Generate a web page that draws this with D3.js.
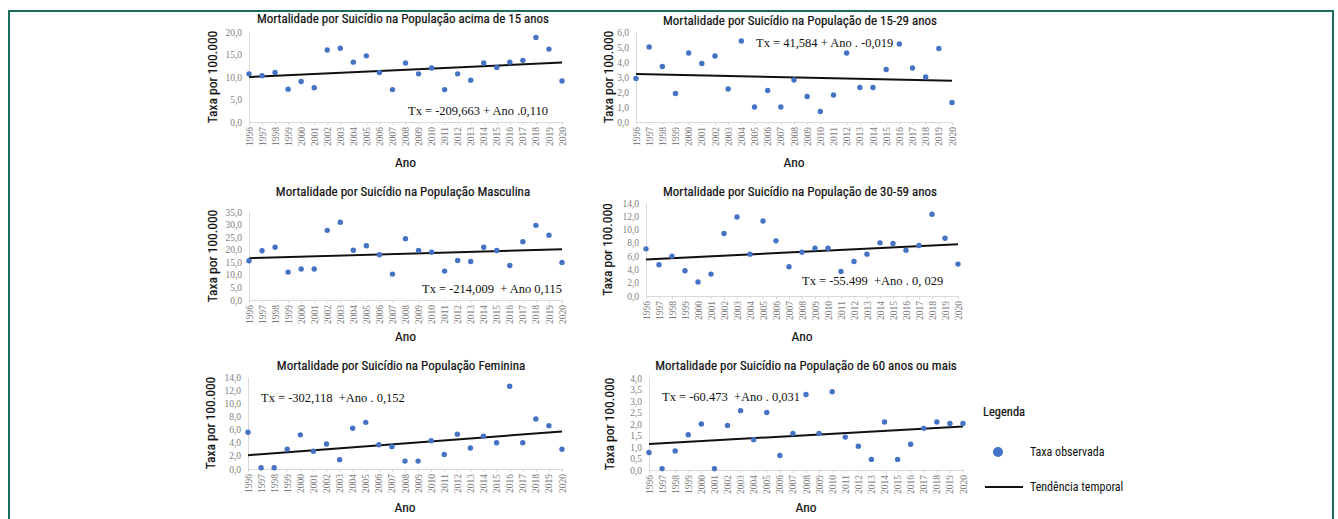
<!DOCTYPE html>
<html>
<head>
<meta charset="utf-8">
<script src="https://cdn.jsdelivr.net/npm/d3@7"></script>
<style>
  html, body { margin: 0; padding: 0; background: #fff; }
  svg { display: block; }
  .narrow { font-family: "Liberation Sans Narrow", "Roboto Condensed", "DejaVu Sans Condensed", "Liberation Sans", sans-serif; }
  .heavy { stroke: #111; stroke-width: 0.2px; }
  .eq { white-space: pre; }
</style>
</head>
<body>
<svg id="chart" width="1338" height="519"></svg>
<script>
// ---------- DATA ----------
const years = [1996,1997,1998,1999,2000,2001,2002,2003,2004,2005,2006,2007,2008,2009,2010,2011,2012,2013,2014,2015,2016,2017,2018,2019,2020];

const titles = [
  "Mortalidade por Suicídio na População acima de 15 anos",
  "Mortalidade por Suicídio na População de 15-29 anos",
  "Mortalidade por Suicídio na População Masculina",
  "Mortalidade por Suicídio na População de 30-59 anos",
  "Mortalidade por Suicídio na População Feminina",
  "Mortalidade por Suicídio na População de 60 anos ou mais"
];

const yMaxes  = [20, 6, 35, 14, 14, 4];
const yStepss = [5, 1, 5, 2, 2, 0.5];

const acima15   = [10.7,10.3,11.0,7.3,9.0,7.6,16.0,16.4,13.3,14.7,11.0,7.2,13.1,10.7,12.0,7.2,10.7,9.3,13.1,12.1,13.3,13.7,18.8,16.2,9.1];
const de15a29   = [2.9,5.0,3.7,1.9,4.6,3.9,4.4,2.2,5.4,1.0,2.1,1.0,2.8,1.7,0.7,1.8,4.6,2.3,2.3,3.5,5.2,3.6,3.0,4.9,1.3];
const masculina = [15.6,19.6,21.0,11.1,12.3,12.3,27.7,30.9,19.8,21.6,18.0,10.3,24.4,19.7,19.0,11.5,15.7,15.3,21.0,19.7,13.7,23.2,29.7,25.8,14.9];
const de30a59   = [7.1,4.7,6.0,3.8,2.1,3.3,9.4,11.9,6.3,11.3,8.3,4.4,6.6,7.2,7.2,3.7,5.2,6.3,8.0,7.9,6.9,7.6,12.3,8.7,4.8];
const feminina  = [5.6,0.2,0.2,3.0,5.2,2.7,3.8,1.4,6.2,7.1,3.7,3.4,1.2,1.2,4.3,2.2,5.3,3.2,5.0,4.0,12.6,4.0,7.6,6.6,3.0];
const de60mais  = [0.76,0.06,0.83,1.53,2.0,0.06,1.94,2.58,1.32,2.5,0.63,1.59,3.28,1.59,3.4,1.43,1.03,0.46,2.09,0.46,1.12,1.81,2.09,2.02,2.02];

const seriesList = [acima15, de15a29, masculina, de30a59, feminina, de60mais];

// trend line values at 1996 and 2020 as drawn
const trendStart = [10.0, 3.2, 16.6, 5.5, 2.1, 1.13];
const trendEnd   = [13.2, 2.75, 20.2, 7.8, 5.7, 1.89];

const equations = [
  "Tx = -209,663 + Ano .0,110",
  "Tx = 41,584 + Ano . -0,019",
  "Tx = -214,009  + Ano 0,115",
  "Tx = -55.499  +Ano . 0, 029",
  "Tx = -302,118  +Ano . 0,152",
  "Tx = -60.473  +Ano . 0,031"
];

const yAxisTitle = "Taxa por 100.000";
const xAxisTitle = "Ano";
const legendTitle = "Legenda";
const legendLabels = ["Taxa observada", "Tendência temporal"];

// ---------- LAYOUT ----------
const layout = [
  { x0: 249, x1: 562, yTop: 32,  y0: 122, titleX: 403, titleY: 20,  anoY: 163, ytX: 213, eqX: 408, eqY: 112 },
  { x0: 636, x1: 952, yTop: 32,  y0: 122, titleX: 800, titleY: 22,  anoY: 163, ytX: 609, eqX: 756, eqY: 44 },
  { x0: 249, x1: 562, yTop: 212, y0: 300, titleX: 403, titleY: 193, anoY: 337, ytX: 213, eqX: 422, eqY: 290 },
  { x0: 646, x1: 958, yTop: 203, y0: 296, titleX: 800, titleY: 193, anoY: 337, ytX: 608, eqX: 802, eqY: 282 },
  { x0: 248, x1: 562, yTop: 377, y0: 469, titleX: 401, titleY: 367, anoY: 508, ytX: 211, eqX: 261, eqY: 399 },
  { x0: 649, x1: 963, yTop: 378, y0: 470, titleX: 806, titleY: 367, anoY: 508, ytX: 610, eqX: 662, eqY: 398 }
];

const dotColor = "#4472c4";
const gridGrey = "#d9d9d9";
const tickGrey = "#808080";
const locale = d3.formatLocale({ decimal: ",", thousands: ".", grouping: [3], currency: ["", ""] });
const fmt = locale.format(".1f");

const svg = d3.select("#chart");

// frame border
svg.append("path")
  .attr("d", "M9,530 L9,11 L1333,11 L1333,530")
  .attr("fill", "none")
  .attr("stroke", "#1d6b5b")
  .attr("stroke-width", 2);

titles.forEach((title, i) => {
  const L = layout[i];
  const data = seriesList[i];
  const x = d3.scalePoint().domain(years).range([L.x0, L.x1]);
  const y = d3.scaleLinear().domain([0, yMaxes[i]]).range([L.y0, L.yTop]);
  const g = svg.append("g");

  // y axis
  const yTicks = d3.range(0, yMaxes[i] + yStepss[i] / 2, yStepss[i]);
  const yAxis = g.append("g")
    .attr("transform", `translate(${L.x0},0)`)
    .call(d3.axisLeft(y).tickValues(yTicks).tickFormat(fmt).tickSize(0).tickPadding(7));
  yAxis.select(".domain").attr("stroke", gridGrey).attr("stroke-width", 1);
  yAxis.selectAll("text")
    .attr("fill", tickGrey)
    .attr("font-family", "'Liberation Serif', serif")
    .attr("font-size", 9.5);

  // x axis
  const xAxis = g.append("g")
    .attr("transform", `translate(0,${L.y0})`)
    .call(d3.axisBottom(x).tickSize(3).tickSizeOuter(0).tickPadding(3).tickFormat(d3.format("d")));
  xAxis.select(".domain").attr("stroke", gridGrey).attr("stroke-width", 1);
  xAxis.selectAll(".tick line").attr("stroke", gridGrey);
  xAxis.selectAll("text")
    .attr("fill", tickGrey)
    .attr("font-family", "'Liberation Serif', serif")
    .attr("font-size", 9.5)
    .attr("transform", "rotate(-90)")
    .attr("text-anchor", "end")
    .attr("dy", "0.32em")
    .attr("x", -5)
    .attr("y", 0);

  // trend line
  const trend = [{ yr: years[0], v: trendStart[i] }, { yr: years[years.length - 1], v: trendEnd[i] }];
  g.append("path")
    .datum(trend)
    .attr("d", d3.line().x(d => x(d.yr)).y(d => y(d.v)))
    .attr("stroke", "#111")
    .attr("stroke-width", 2)
    .attr("fill", "none");

  // dots
  g.selectAll("circle.dot")
    .data(data)
    .join("circle")
    .attr("class", "dot")
    .attr("cx", (d, k) => x(years[k]))
    .attr("cy", d => y(d))
    .attr("r", 2.7)
    .attr("fill", dotColor);

  // title
  g.append("text")
    .attr("class", "narrow heavy")
    .attr("x", L.titleX).attr("y", L.titleY)
    .attr("text-anchor", "middle").attr("dominant-baseline", "middle")
    .attr("font-size", 13).attr("fill", "#111")
    .text(title);

  // x title
  g.append("text")
    .attr("class", "narrow heavy")
    .attr("x", (L.x0 + L.x1) / 2).attr("y", L.anoY)
    .attr("text-anchor", "middle").attr("dominant-baseline", "middle")
    .attr("font-size", 13.5).attr("fill", "#111")
    .text(xAxisTitle);

  // y title
  g.append("text")
    .attr("class", "narrow heavy")
    .attr("transform", `translate(${L.ytX},${(L.y0 + L.yTop) / 2}) rotate(-90)`)
    .attr("text-anchor", "middle").attr("dominant-baseline", "middle")
    .attr("font-size", 13.5).attr("fill", "#111")
    .text(yAxisTitle);

  // equation
  g.append("text")
    .attr("class", "eq")
    .attr("x", L.eqX).attr("y", L.eqY)
    .attr("dominant-baseline", "middle")
    .attr("font-family", "'Liberation Serif', serif")
    .attr("font-size", 12.5).attr("fill", "#111")
    .text(equations[i]);
});

// legend
const lg = svg.append("g");
lg.append("text").attr("class", "narrow heavy")
  .attr("x", 983).attr("y", 413).attr("dominant-baseline", "middle")
  .attr("font-size", 12.5).attr("fill", "#111").text(legendTitle);
lg.append("circle").attr("cx", 998).attr("cy", 452).attr("r", 5).attr("fill", dotColor);
lg.append("text").attr("class", "narrow")
  .attr("x", 1030).attr("y", 453).attr("dominant-baseline", "middle")
  .attr("font-size", 12).attr("fill", "#111").text(legendLabels[0]);
lg.append("line").attr("x1", 985).attr("x2", 1023).attr("y1", 487).attr("y2", 487)
  .attr("stroke", "#111").attr("stroke-width", 2);
lg.append("text").attr("class", "narrow")
  .attr("x", 1030).attr("y", 488).attr("dominant-baseline", "middle")
  .attr("font-size", 12).attr("fill", "#111").text(legendLabels[1]);
</script>
</body>
</html>
